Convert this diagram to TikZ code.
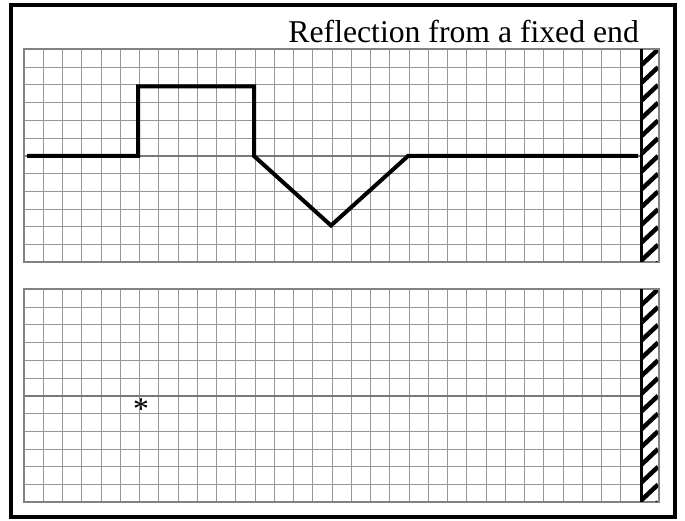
\documentclass[tikz,border=0pt]{standalone}
\usepackage{fontspec}
\setmainfont{Liberation Serif}
\begin{document}
\begin{tikzpicture}[x=1pt,y=-1pt,
  gridline/.style={draw={rgb,255:red,150;green,150;blue,150},line width=1pt},
  panelframe/.style={draw={rgb,255:red,130;green,130;blue,130},line width=2pt},
  midline/.style={draw={rgb,255:red,120;green,120;blue,120},line width=2pt},
  wave/.style={draw=black,line width=4pt,line join=miter,line cap=butt},
  stripe/.style={draw=black,line width=4.5pt},
  border/.style={draw=black,line width=4.5pt}]
\useasboundingbox (0,0) rectangle (685,521);
\fill[white] (0,0) rectangle (685,521);
\draw[border] (11,5) rectangle (675,517);
% panels
\foreach \py in {49.5,289.3}{
  \foreach \i in {1,...,32} \draw[gridline] ({24+19.25*\i},\py) -- ({24+19.25*\i},{\py+213});
  \foreach \j in {1,...,11} \draw[gridline] (24,{\py+17.75*\j}) -- (659,{\py+17.75*\j});
  \draw[midline] (24,{\py+106.5}) -- (659,{\py+106.5});
  \draw[panelframe] (24,\py) rectangle (659,{\py+213});
  % wall
  \fill[white] (641,{\py+1}) rectangle (658,{\py+212});
  \begin{scope}
    \clip (641,{\py+1}) rectangle (658,{\py+212});
    \foreach \k in {-1,...,13} \draw[stripe] (641,{\py+17.75*\k+16}) -- (658,{\py+17.75*\k});
  \end{scope}
  \draw[draw=black,line width=3.5pt] (641.5,\py) -- (641.5,{\py+213});
}
% title
\node[anchor=base east,inner sep=0pt,font=\fontsize{31.7}{32}\selectfont] (title) at (639,42.3) {Reflection from a fixed end};
% waveform
\draw[wave] (27,156) -- (138,156) -- (138,86.5) -- (254,86.5) -- (254,156) -- (331,225.5) -- (408,156) -- (638,156);
% asterisk
\node[anchor=base,inner sep=0pt,font=\fontsize{31.7}{32}\selectfont] (star) at (141,419.5) {*};
\end{tikzpicture}
\end{document}
